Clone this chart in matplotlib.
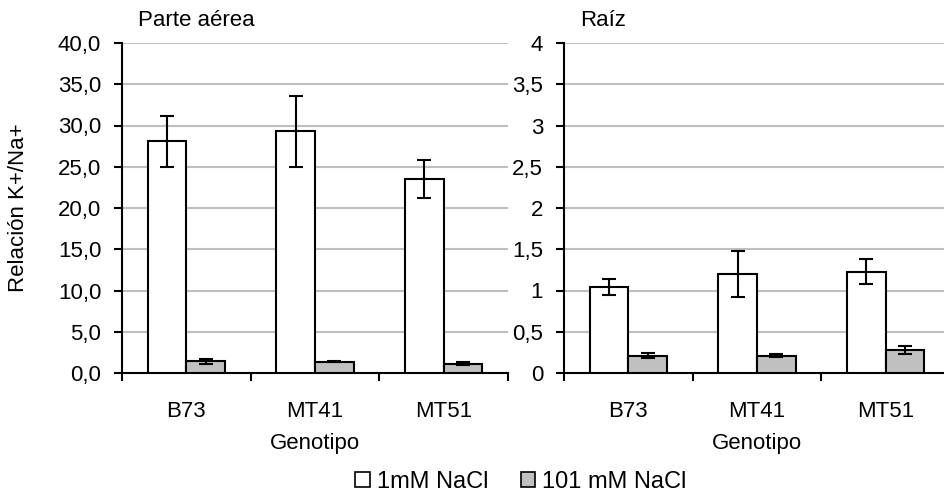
import matplotlib
matplotlib.use("Agg")
import matplotlib.pyplot as plt
from matplotlib.patches import Patch
from matplotlib.ticker import FuncFormatter, MultipleLocator
import numpy as np

plt.rcParams['font.family'] = ['Liberation Sans', 'DejaVu Sans']

genotypes = ["B73", "MT41", "MT51"]
series_names = ["1mM NaCl", "101 mM NaCl"]

# Parte aérea (shoot)
shoot_low = [28.1, 29.3, 23.5]
shoot_low_err = [3.1, 4.3, 2.3]
shoot_high = [1.4, 1.35, 1.15]
shoot_high_err = [0.25, 0.05, 0.15]

# Raíz (root)
root_low = [1.04, 1.20, 1.23]
root_low_err = [0.10, 0.28, 0.15]
root_high = [0.21, 0.21, 0.28]
root_high_err = [0.03, 0.02, 0.05]

W, H = 944, 496
fig = plt.figure(figsize=(W / 100, H / 100), dpi=100)

FS = 16
GRID = "#bfbfbf"
GRAY = "#c0c0c0"


def panel(rect, low, low_err, high, high_err, ymax, step, fmt, title, title_x):
    ax = fig.add_axes(rect)
    x = np.arange(len(genotypes)) + 0.5
    bw = 0.3
    kw = dict(width=bw, edgecolor="black", linewidth=1.5, zorder=3,
              error_kw=dict(ecolor="black", elinewidth=1.5, capthick=1.5),
              capsize=5)
    ax.bar(x - bw / 2, low, yerr=low_err, color="white", **kw)
    ax.bar(x + bw / 2, high, yerr=high_err, color=GRAY, **kw)
    ax.set_xlim(0, len(genotypes))
    ax.set_ylim(0, ymax)
    ax.yaxis.set_major_locator(MultipleLocator(step))
    ax.yaxis.set_major_formatter(FuncFormatter(fmt))
    ax.grid(axis="y", color=GRID, linewidth=1.5, zorder=0)
    ax.set_axisbelow(True)
    for s in ("top", "right"):
        ax.spines[s].set_visible(False)
    for s in ("left", "bottom"):
        ax.spines[s].set_linewidth(1.5)
    ax.set_xticks(np.arange(len(genotypes) + 1))
    ax.set_xticklabels([])
    ax.set_xticks(x, minor=True)
    ax.set_xticklabels(genotypes, minor=True)
    ax.tick_params(axis="x", which="major", length=6, width=1.5, direction="out")
    ax.tick_params(axis="x", which="minor", length=0, pad=20, labelsize=FS)
    ax.tick_params(axis="y", length=6, width=1.5, pad=9, labelsize=FS)
    ax.set_xlabel("Genotipo", fontsize=FS, labelpad=8)
    fig.text(title_x / W, 1 - 20 / H, title, fontsize=FS, ha="left", va="center")
    return ax


def fmt_shoot(v, pos):
    return f"{v:.1f}".replace(".", ",")


def fmt_root(v, pos):
    s = f"{v:g}"
    return s.replace(".", ",")


top, bot = 43, 373
h = (bot - top) / H
y0 = 1 - bot / H
wpx = 386
ax1 = panel([122 / W, y0, wpx / W, h], shoot_low, shoot_low_err, shoot_high,
            shoot_high_err, 40, 5, fmt_shoot, "Parte aérea", 138)
ax2 = panel([564 / W, y0, wpx / W, h], root_low, root_low_err, root_high,
            root_high_err, 4, 0.5, fmt_root, "Raíz", 580)

ax1.set_ylabel("Relación K+/Na+", fontsize=FS)
ax1.yaxis.set_label_coords((29 - 122) / wpx, 0.5)

handles = [Patch(facecolor="white", edgecolor="black", linewidth=1.2),
           Patch(facecolor=GRAY, edgecolor="black", linewidth=1.2)]
fig.legend(handles, series_names, loc="center", bbox_to_anchor=(0.552, 1 - 482 / H),
           ncol=2, frameon=False, fontsize=17, handlelength=0.6, handleheight=0.6,
           handletextpad=0.3, columnspacing=1.4, borderpad=0)

fig.savefig("out.png", dpi=100)
